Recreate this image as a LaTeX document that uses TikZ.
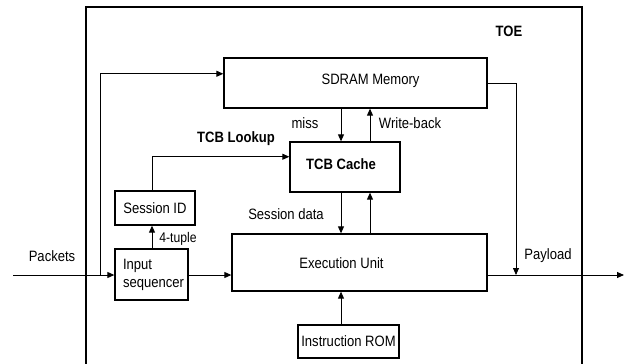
\documentclass[tikz,border=0pt]{standalone}
\usepackage{fontspec}
\setmainfont{Liberation Sans}[FakeStretch=0.87]
\usetikzlibrary{arrows.meta,calc}
\begin{document}
\begin{tikzpicture}[x=1pt,y=-1pt,
  font=\fontsize{15}{18}\selectfont,
  box/.style={draw,line width=1.3pt,rectangle,inner sep=0pt},
  arr/.style={line width=0.9pt,-{Triangle[length=7pt,width=6pt]}},
  lbl/.style={inner sep=0pt},
  small/.style={inner sep=0pt,font=\fontsize{14}{16}\selectfont}]
\useasboundingbox (0,0) rectangle (641,364);
% TOE outline
\draw[line width=1.3pt] (86,366) -- (86,7) -- (582,7) -- (582,366);
\node[lbl,font=\fontsize{15}{18}\selectfont\bfseries] (toe) at (509,31) {TOE};
% blocks
\node[box,minimum width=263pt,minimum height=50pt,
  label={[lbl,xshift=15pt,yshift=2pt]center:SDRAM Memory}] (sdram) at (355.5,83) {};
\node[box,minimum width=110pt,minimum height=50pt,
  label={[lbl,xshift=-4pt,yshift=3pt,font=\fontsize{15}{18}\selectfont\bfseries]center:TCB Cache}] (tcb) at (345,167) {};
\node[box,minimum width=80pt,minimum height=34pt] (sid) at (155,208) {Session ID};
\node[box,minimum width=73pt,minimum height=51pt,text width=57pt,inner xsep=8pt,align=left] (inp) at (151.5,274.5) {Input\\sequencer};
\node[box,minimum width=255pt,minimum height=57pt,
  label={[lbl,xshift=-18pt,yshift=-1pt]center:Execution Unit}] (eu) at (359.5,262.5) {};
\node[box,minimum width=101pt,minimum height=33pt] (rom) at (348.5,341.5) {Instruction ROM};
% coordinates
\coordinate (pin) at (13,275);
\coordinate (j1) at (100,275);
\coordinate (ly) at (0,275);
\coordinate (xa) at (341,0);
\coordinate (xb) at (370,0);
\coordinate (pl) at (516,275);
\coordinate (out) at (624,275);
% connectors
\draw[arr] (pin) -- (inp.west |- ly);
\draw[arr] (j1) |- ($(sdram.north west)!0.32!(sdram.south west)$);
\draw[arr] (inp.north -| 152,0) -- (sid.south -| 152,0);
\draw[arr] (sid.north -| 152,0) |- ($(tcb.north west)!0.3!(tcb.south west)$);
\draw[arr] (sdram.south -| xa) -- (tcb.north -| xa);
\draw[arr] (tcb.north -| xb) -- (sdram.south -| xb);
\draw[arr] (tcb.south -| xa) -- (eu.north -| xa);
\draw[arr] (eu.north -| xb) -- (tcb.south -| xb);
\draw[arr] (inp.east |- ly) -- (eu.west |- ly);
\draw[arr] (rom.north -| xa) -- (eu.south -| xa);
\draw[arr] (eu.east |- ly) -- (out);
\draw[arr,line width=0.8pt] (sdram.east |- 0,83) -| (pl);
% labels
\node[lbl] (lpk) at (52,256) {Packets};
\node[lbl,font=\fontsize{15}{18}\selectfont\bfseries] (llk) at (236,139) {TCB Lookup};
\node[lbl] (lmiss) at (305,123) {miss};
\node[lbl] (lwb) at (410,123) {Write-back};
\node[lbl] (lsd) at (286,214) {Session data};
\node[small] (ltp) at (178,239) {4-tuple};
\node[lbl] (lpay) at (548,256) {Payload};
\end{tikzpicture}
\end{document}
